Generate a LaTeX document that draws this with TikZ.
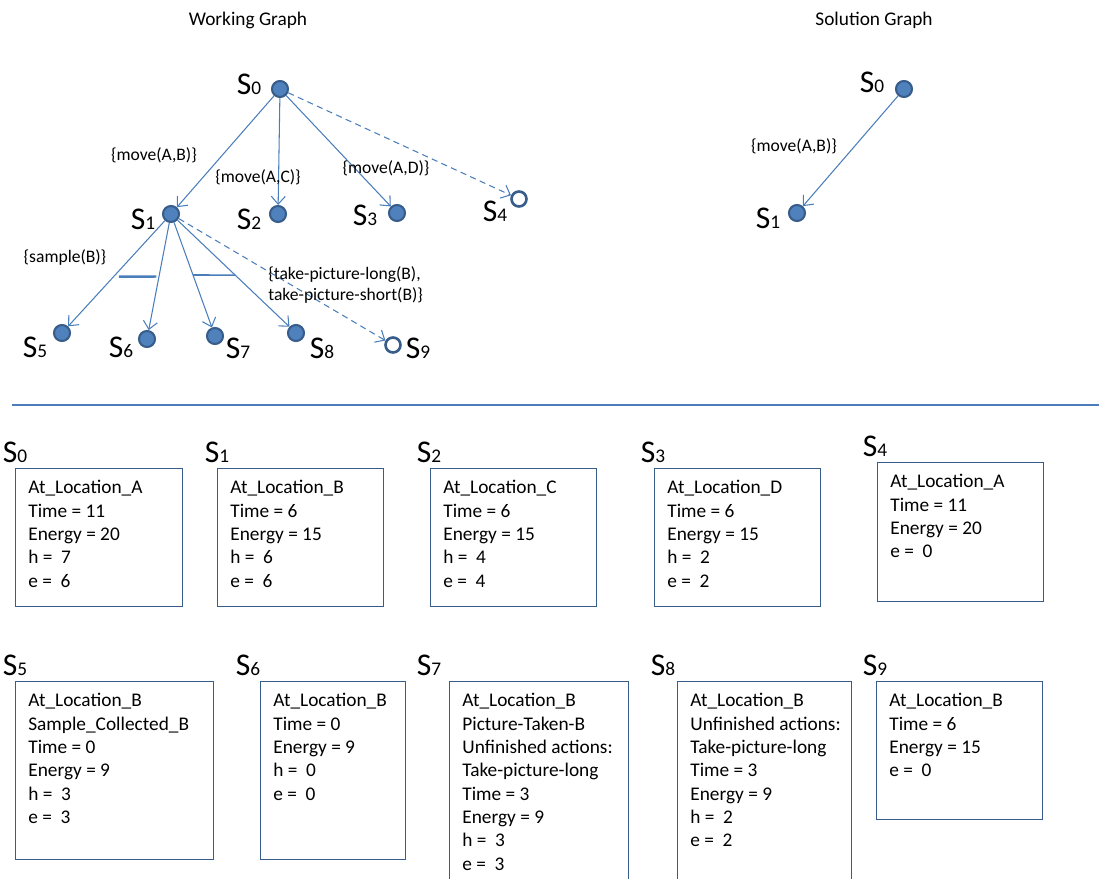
\documentclass[tikz,border=0pt]{standalone}
\usepackage{fontspec}
\setmainfont{Carlito}
\usetikzlibrary{arrows.meta,positioning}
\definecolor{dotblue}{HTML}{4F81BD}
\definecolor{rimblue}{HTML}{385D8A}
\definecolor{lineblue}{HTML}{4A7EBB}
\newcommand{\slabel}[1]{{\fontsize{18}{18}\selectfont S}{\fontsize{11}{11}\selectfont #1}}

\begin{document}
\begin{tikzpicture}[x=0.02cm,y=-0.02cm,>={Straight Barb[length=4.5pt,width=8pt]},
  dot/.style={circle,fill=dotblue,draw=rimblue,line width=1.2pt,minimum size=0.32cm,inner sep=0},
  hollow/.style={circle,fill=white,draw=rimblue,line width=1.5pt,minimum size=0.3cm,inner sep=0},
  edge/.style={draw=lineblue,line width=0.6pt,->},
  bar/.style={draw=lineblue,line width=1.4pt},
  tag/.style={font=\fontsize{10}{12}\selectfont,inner sep=0,align=left},
  slab/.style={inner sep=0},
  statebox/.style={draw=rimblue,line width=0.8pt,anchor=north west,inner sep=0},
  facts/.style={font=\fontsize{11}{13.3}\selectfont,inner sep=0,align=left},
  title/.style={font=\fontsize{11}{13}\selectfont,inner sep=0}]

\useasboundingbox (0,0) rectangle (1099,879);
\clip (0,0) rectangle (1099,879);

% Working graph
\node[title] (wg) at (248,20) {Working Graph};
  \node[dot] (n0) at (280,89) {};
  \node[dot] (n1) at (171,214) {};
  \node[dot] (n2) at (278,214) {};
  \node[dot] (n3) at (397,213) {};
  \node[hollow] (n4) at (519,199) {};
  \node[dot] (n5) at (62,333) {};
  \node[dot] (n6) at (147,339) {};
  \node[dot] (n7) at (215,336) {};
  \node[dot] (n8) at (296,333) {};
  \node[hollow] (n9) at (393,345) {};

  \node[slab] (l0) at (249,84) {\slabel{0}};
  \node[slab] (l1) at (143,219) {\slabel{1}};
  \node[slab] (l2) at (249,219) {\slabel{2}};
  \node[slab] (l3) at (365,215) {\slabel{3}};
  \node[slab] (l4) at (495,211) {\slabel{4}};
  \node[slab] (l5) at (35,347) {\slabel{5}};
  \node[slab] (l6) at (121,347) {\slabel{6}};
  \node[slab] (l7) at (238,348) {\slabel{7}};
  \node[slab] (l8) at (322,348) {\slabel{8}};
  \node[slab] (l9) at (418,348) {\slabel{9}};

  \draw[edge] (n0) -- (n1);
  \draw[edge] (n0) -- (n2);
  \draw[edge] (n0) -- (n3);
  \draw[edge,dashed,dash pattern=on 3.5pt off 2.5pt] (n0) -- (n4);
  \draw[edge] (n1) -- coordinate[pos=0.53] (c5) (n5);
  \draw[edge] (n1) -- coordinate[pos=0.50] (c6) (n6);
  \draw[edge] (n1) -- coordinate[pos=0.50] (c7) (n7);
  \draw[edge] (n1) -- coordinate[pos=0.515] (c8) (n8);
  \draw[edge,dashed,dash pattern=on 3.5pt off 2.5pt] (n1) -- (n9);
  \draw[bar,shorten <=3pt,shorten >=1.5pt] (c5) -- (c6);
  \draw[bar,line width=0.9pt] (c7) -- (c8);

  \node[tag] (e1) at (154,155) {\{move(A,B)\}};
  \node[tag] (e2) at (258,177) {\{move(A,C)\}};
  \node[tag] (e3) at (386,168) {\{move(A,D)\}};
  \node[tag] (e5) at (65,257) {\{sample(B)\}};
  \node[tag,anchor=west] (e9) at (268,285) {\{take-picture-long(B),\\take-picture-short(B)\}};

% Solution graph
\node[title] (sg) at (874,20) {Solution Graph};
  \node[dot] (m0) at (904,89) {};
  \node[dot] (m1) at (797,213) {};
  \node[slab] (k0) at (872,82) {\slabel{0}};
  \node[slab] (k1) at (768,218) {\slabel{1}};
  \draw[edge] (m0) -- (m1);
  \node[tag] (f1) at (794,146) {\{move(A,B)\}};

\draw[lineblue,line width=0.8pt] (12,405) -- (1099,405);

% State boxes, upper row
  \node[statebox,minimum width=3.34cm,minimum height=2.76cm] (b0) at (15,468) {};
  \node[statebox,minimum width=3.32cm,minimum height=2.76cm] (b1) at (217,468) {};
  \node[statebox,minimum width=3.32cm,minimum height=2.76cm] (b2) at (430,468) {};
  \node[statebox,minimum width=3.32cm,minimum height=2.76cm] (b3) at (654,468) {};
  \node[statebox,minimum width=3.32cm,minimum height=2.78cm] (b4) at (877,462) {};

  \node[slab] (s0) at (15,452) {\slabel{0}};
  \node[slab] (s1) at (217,452) {\slabel{1}};
  \node[slab] (s2) at (429,452) {\slabel{2}};
  \node[slab] (s3) at (653,452) {\slabel{3}};
  \node[slab] (s4) at (875,446) {\slabel{4}};

  \node[facts,below right=6.8pt and 7.4pt of b0.north west] (t0) {At\_Location\_A\\Time = 11\\Energy = 20\\h =\ \ 7\\e =\ \ 6};
  \node[facts,below right=6.8pt and 7.4pt of b1.north west] (t1) {At\_Location\_B\\Time = 6\\Energy = 15\\h =\ \ 6\\e =\ \ 6};
  \node[facts,below right=6.8pt and 7.4pt of b2.north west] (t2) {At\_Location\_C\\Time = 6\\Energy = 15\\h =\ \ 4\\e =\ \ 4};
  \node[facts,below right=6.8pt and 7.4pt of b3.north west] (t3) {At\_Location\_D\\Time = 6\\Energy = 15\\h =\ \ 2\\e =\ \ 2};
  \node[facts,below right=6.8pt and 7.4pt of b4.north west] (t4) {At\_Location\_A\\Time = 11\\Energy = 20\\e =\ \ 0};

% State boxes, lower row
  \node[statebox,minimum width=3.96cm,minimum height=3.56cm] (b5) at (15,681) {};
  \node[statebox,minimum width=2.90cm,minimum height=3.56cm] (b6) at (260,681) {};
  \node[statebox,minimum width=3.58cm,minimum height=4.6cm] (b7) at (449,681) {};
  \node[statebox,minimum width=3.48cm,minimum height=4.6cm] (b8) at (677,681) {};
  \node[statebox,minimum width=3.32cm,minimum height=2.76cm] (b9) at (876,681) {};

  \node[slab] (s5) at (15,665) {\slabel{5}};
  \node[slab] (s6) at (248,665) {\slabel{6}};
  \node[slab] (s7) at (429,665) {\slabel{7}};
  \node[slab] (s8) at (663,665) {\slabel{8}};
  \node[slab] (s9) at (875,665) {\slabel{9}};

  \node[facts,below right=6.8pt and 7.4pt of b5.north west] (t5) {At\_Location\_B\\Sample\_Collected\_B\\Time = 0\\Energy = 9\\h =\ \ 3\\e =\ \ 3};
  \node[facts,below right=6.8pt and 7.4pt of b6.north west] (t6) {At\_Location\_B\\Time = 0\\Energy = 9\\h =\ \ 0\\e =\ \ 0};
  \node[facts,below right=6.8pt and 7.4pt of b7.north west] (t7) {At\_Location\_B\\Picture-Taken-B\\Unfinished actions:\\Take-picture-long\\Time = 3\\Energy = 9\\h =\ \ 3\\e =\ \ 3};
  \node[facts,below right=6.8pt and 7.4pt of b8.north west] (t8) {At\_Location\_B\\Unfinished actions:\\Take-picture-long\\Time = 3\\Energy = 9\\h =\ \ 2\\e =\ \ 2};
  \node[facts,below right=6.8pt and 7.4pt of b9.north west] (t9) {At\_Location\_B\\Time = 6\\Energy = 15\\e =\ \ 0};
\end{tikzpicture}
\end{document}
